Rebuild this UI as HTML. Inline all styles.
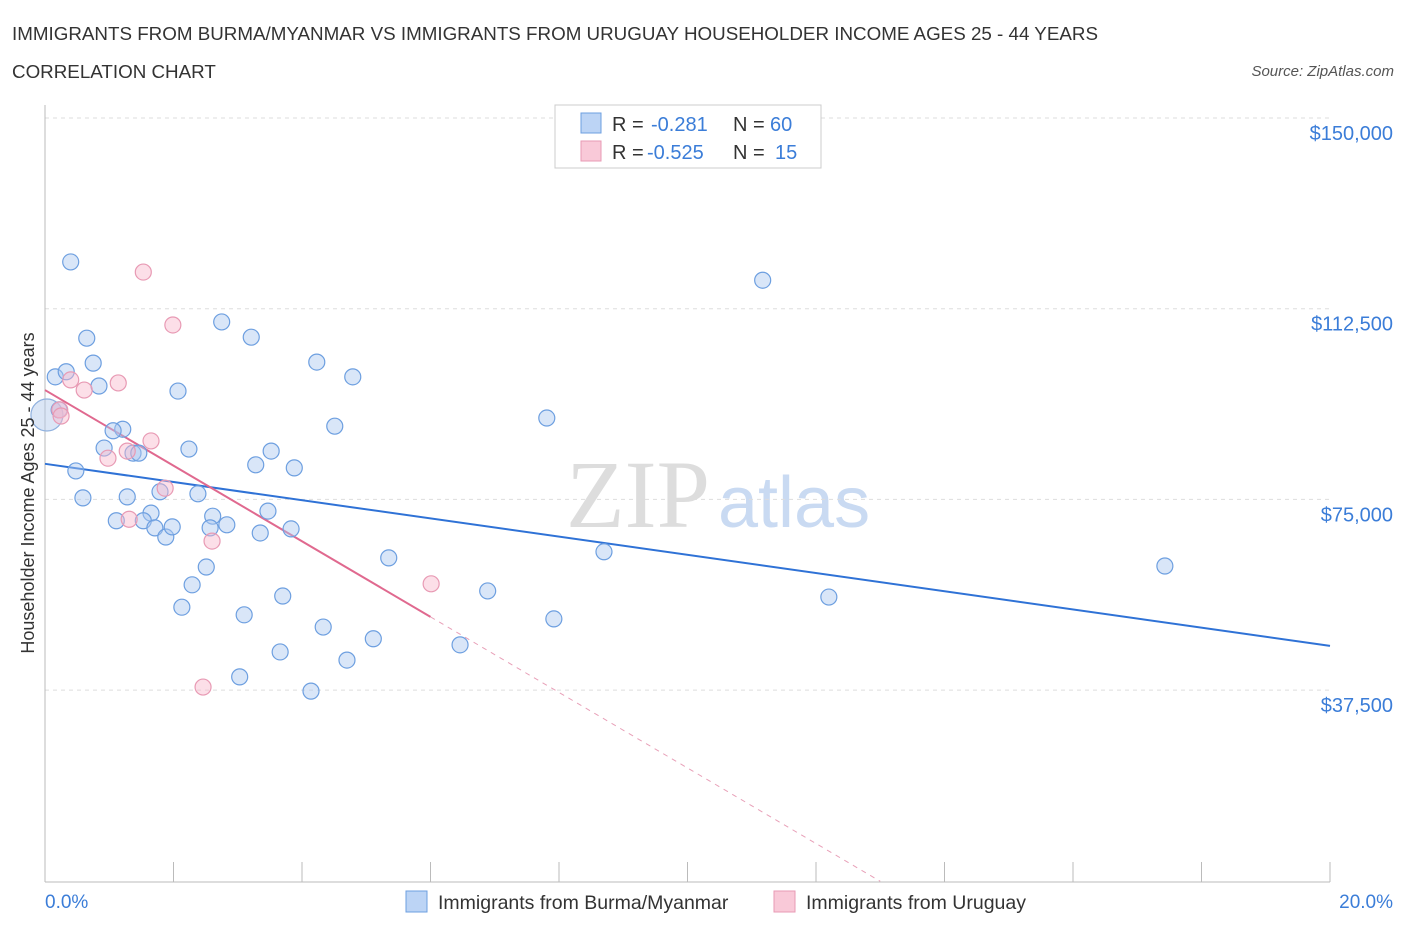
<!DOCTYPE html>
<html><head><meta charset="utf-8">
<style>
body{margin:0;background:#fff;font-family:"Liberation Sans",sans-serif;}
svg{display:block}
</style></head>
<body>
<svg id="chart" width="1406" height="930" xmlns="http://www.w3.org/2000/svg">
<text x="12" y="40" font-size="18.8" fill="#333">IMMIGRANTS FROM BURMA/MYANMAR VS IMMIGRANTS FROM URUGUAY HOUSEHOLDER INCOME AGES 25 - 44 YEARS</text>
<text x="12" y="78" font-size="18.8" fill="#333">CORRELATION CHART</text>
<text x="1394" y="76" font-size="15" fill="#555" font-style="italic" text-anchor="end">Source: ZipAtlas.com</text>
<text x="710" y="527" font-size="96" fill="#ddd" text-anchor="end" font-family="Liberation Serif,serif">ZIP</text>
<text x="718" y="527" font-size="72" fill="#c9daf2">atlas</text>
<g id="grid"></g>
<g id="axes"></g>
<g id="lines"></g>
<g id="points"></g>
<text transform="translate(34,493) rotate(-90)" font-size="18" fill="#333" text-anchor="middle">Householder Income Ages 25 - 44 years</text>
<text x="45" y="908" font-size="19" fill="#3b7dd8">0.0%</text>
<text x="1393" y="908" font-size="19" fill="#3b7dd8" text-anchor="end">20.0%</text>
<g font-size="20">
<rect x="555" y="105" width="266" height="63" fill="#fff" stroke="#ccc"/>
<rect x="581" y="113" width="20" height="20" fill="#bcd4f5" stroke="#6d9fe0"/>
<text x="612" y="131" fill="#333">R =</text>
<text x="651" y="131" fill="#3b7dd8">-0.281</text>
<text x="733" y="131" fill="#333">N =</text>
<text x="770" y="131" fill="#3b7dd8">60</text>
<rect x="581" y="141" width="20" height="20" fill="#f9c9d8" stroke="#e89ab4"/>
<text x="612" y="159" fill="#333">R =</text>
<text x="647" y="159" fill="#3b7dd8">-0.525</text>
<text x="733" y="159" fill="#333">N =</text>
<text x="775" y="159" fill="#3b7dd8">15</text>
</g>
<g>
<rect x="406" y="891" width="21" height="21" fill="#bcd4f5" stroke="#6d9fe0"/>
<text x="438" y="909" font-size="19.5" fill="#333">Immigrants from Burma/Myanmar</text>
<rect x="774" y="891" width="21" height="21" fill="#f9c9d8" stroke="#e89ab4"/>
<text x="806" y="909" font-size="19.5" fill="#333">Immigrants from Uruguay</text>
</g>
</svg>
<script>
const yTicks=[150000,112500,75000,37500];
const yTickLabels=["$150,000","$112,500","$75,000","$37,500"];
const xTicks=[0,2,4,6,8,10,12,14,16,18,20];
const blueX=[0.40,0.65,0.75,0.16,0.33,0.84,2.07,2.75,3.21,4.23,4.79,0.22,1.21,1.06,0.92,1.37,1.46,2.24,3.52,3.28,3.88,4.51,7.81,11.17,0.48,0.59,1.28,1.79,2.38,1.65,1.11,1.53,1.71,1.88,1.98,2.61,2.57,2.83,3.35,3.47,3.83,5.35,8.70,17.43,12.20,2.51,2.29,2.13,3.10,3.70,4.33,5.11,6.89,7.92,6.46,3.66,4.70,3.03,4.14];
const blueY=[121700,106700,101800,99100,100100,97300,96300,109900,106900,102000,99100,92600,88800,88500,85100,84100,84100,84900,84500,81800,81200,89400,91000,118100,80600,75300,75500,76500,76100,72300,70800,70800,69400,67600,69600,71700,69400,70000,68400,72700,69200,63500,64700,61900,55800,61700,58200,53800,52300,56000,49900,47600,57000,51500,46400,45000,43400,40100,37300];
const pinkX=[1.53,1.99,1.14,0.40,0.61,0.23,0.25,1.65,1.28,0.98,1.87,1.31,2.60,6.01,2.46];
const pinkY=[119700,109300,97900,98500,96500,92600,91400,86500,84500,83100,77200,71100,66800,58400,38100];
const bigX=[0.03];
const bigY=[91600];
const blueLine=[[0,82000],[20,46200]];
const pinkSolid=[[0,96500],[6.0,51900]];
const pinkDash=[[6.0,51900],[13.0,-100]];
const NS="http://www.w3.org/2000/svg";
const xs=v=>45+v/20*1285;
const ys=v=>118+(150000-v)/37500*190.7;
function mk(t,a,p){const e=document.createElementNS(NS,t);for(const k in a)e.setAttribute(k,a[k]);p.appendChild(e);return e;}
const grid=document.getElementById('grid'),axes=document.getElementById('axes'),lines=document.getElementById('lines'),pts=document.getElementById('points');
yTicks.forEach((t,i)=>{
 const l=mk('line',{x1:45,x2:1330,y1:ys(t),y2:ys(t),stroke:'#ddd','stroke-dasharray':'4,4'},grid);
 
 
 const tx=mk('text',{x:1393,y:ys(t)+22,'font-size':20,fill:'#3b7dd8','text-anchor':'end'},axes);
 tx.textContent=yTickLabels[i];
 
 
});
const ya=mk('line',{x1:45,x2:45,y1:105,y2:882,stroke:'#bbb'},axes);


const xa=mk('line',{x1:45,x2:1330,y1:882,y2:882,stroke:'#bbb'},axes);


xTicks.forEach(t=>{
 const l=mk('line',{x1:xs(t),x2:xs(t),y1:862,y2:882,stroke:'#bbb'},axes);
 
 
});
function dot(x,y,r,fill,stroke,name){
 const c=mk('circle',{cx:xs(x),cy:ys(y),r:r,fill:fill,stroke:stroke,'stroke-width':1.2},pts);
 
 
}
bigX.forEach((x,i)=>{dot(x,bigY[i],16,'rgba(175,200,235,0.45)','#8fb0de','point-big');});
blueX.forEach((x,i)=>dot(x,blueY[i],8,'rgba(170,200,240,0.45)','#6d9fe0','point-burma'));
pinkX.forEach((x,i)=>dot(x,pinkY[i],8,'rgba(248,185,205,0.45)','#e89ab4','point-uruguay'));
function ln(p,st,w,dash,name){
 const a={x1:xs(p[0][0]),y1:ys(p[0][1]),x2:xs(p[1][0]),y2:ys(p[1][1]),stroke:st,'stroke-width':w};
 if(dash)a['stroke-dasharray']=dash;
 const l=mk('line',a,lines);
 
 
}
ln(blueLine,'#2f72d6',2,null,'trendline-burma');
ln(pinkSolid,'#e0698f',2,null,'trendline-uruguay');
ln(pinkDash,'#e8a0b8',1,'5,5','trendline-uruguay-extension');
</script>
</body></html>
